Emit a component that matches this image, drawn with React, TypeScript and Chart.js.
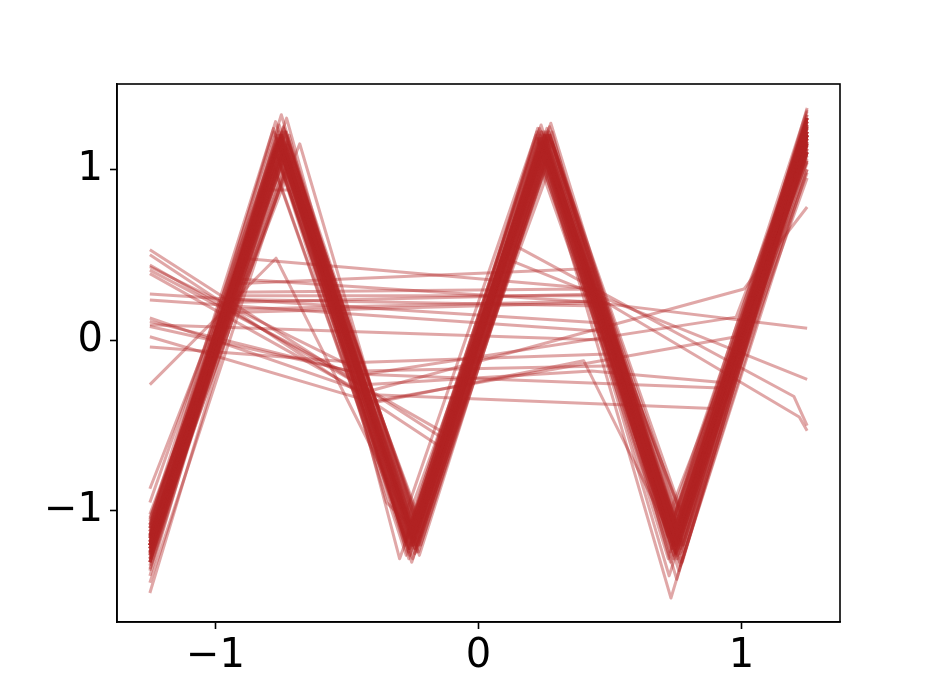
import React, { useEffect, useRef } from "react";
import { Chart, registerables } from "chart.js";

Chart.register(...registerables);

// x positions of the vertices shared by the regular (triangle-wave) lines
const X_GRID = [-1.25, -0.75, -0.25, 0.25, 0.75, 1.25];

// y values of the regular lines at X_GRID
const MAIN_Y: number[][] = [
  [-1.2, 1.18, -1.15, 1.2, -1.1, 1.3],
  [-1.12, 1.1, -1.2, 1.15, -1.18, 1.22],
  [-1.3, 1.22, -1.08, 1.05, -1.25, 1.1],
  [-1.05, 1.05, -1.22, 1.22, -1.05, 1.35],
  [-1.25, 1.15, -1.12, 1.1, -1.3, 1.18],
  [-1.35, 1.0, -1.18, 1.18, -1.02, 1.05],
  [-1.15, 1.25, -1.25, 1.08, -1.15, 1.28],
  [-1.22, 1.12, -1.05, 1.25, -1.22, 1.15],
  [-1.08, 1.2, -1.28, 1.12, -1.08, 1.25],
  [-1.28, 1.08, -1.1, 1.2, -1.35, 1.0],
  [-1.18, 1.16, -1.2, 1.02, -1.12, 1.32],
  [-1.42, 1.05, -1.15, 1.16, -1.2, 1.12],
  [-1.1, 1.22, -1.02, 1.22, -1.28, 1.2],
  [-1.24, 0.98, -1.24, 1.06, -1.0, 1.08],
  [-1.16, 1.14, -1.16, 1.24, -1.16, 1.26],
  [-1.32, 1.2, -1.1, 1.14, -1.4, 1.16],
  [-1.02, 1.1, -1.2, 1.2, -1.06, 0.98],
  [-1.2, 1.28, -1.14, 1.1, -1.24, 1.34],
  [-1.26, 1.04, -1.26, 1.18, -1.12, 1.22],
  [-1.14, 1.18, -1.08, 1.26, -1.18, 1.1],
  [-1.48, 1.12, -1.22, 1.12, -1.26, 1.24],
  [-1.06, 1.24, -1.18, 1.08, -1.1, 1.3],
  [-1.22, 1.06, -1.12, 1.22, -1.32, 1.04],
  [-1.18, 1.2, -1.3, 1.16, -1.14, 1.18],
  [-1.12, 1.02, -1.06, 1.04, -1.2, 1.28],
  [-1.38, 1.16, -1.22, 1.2, -1.08, 1.14],
  [-1.22, 1.24, -1.16, 1.12, -1.22, 1.36],
  [-1.08, 1.12, -1.26, 1.24, -1.38, 1.12],
  [-1.28, 1.18, -1.04, 1.1, -1.16, 1.2],
  [-1.16, 1.08, -1.2, 1.16, -1.04, 1.26],
  [-1.3, 1.26, -1.12, 1.06, -1.28, 1.06],
  [-1.04, 1.16, -1.24, 1.2, -1.12, 1.32],
  [-1.24, 1.1, -1.18, 1.14, -1.51, 1.16],
  [-1.2, 1.32, -1.28, 1.0, -1.2, 0.95],
  [-1.14, 1.14, -1.1, 1.27, -1.24, 1.22],
  [-1.34, 1.02, -1.16, 1.18, -1.14, 1.28],
  [-1.18, 1.22, -1.2, 1.1, -1.3, 1.1],
  [-1.26, 1.12, -1.14, 1.22, -1.18, 1.3],
  [-1.2, 1.14, -1.18, 1.16, -1.16, 1.2],
  [-1.16, 1.18, -1.14, 1.14, -1.2, 1.24],
  [-1.24, 1.12, -1.2, 1.2, -1.12, 1.16],
  [-1.1, 1.16, -1.16, 1.18, -1.22, 1.26],
  [-1.28, 1.2, -1.12, 1.12, -1.18, 1.22],
  [-1.14, 1.1, -1.22, 1.22, -1.1, 1.18],
  [-1.22, 1.16, -1.1, 1.16, -1.26, 1.28],
  [-1.18, 1.14, -1.16, 1.1, -1.14, 1.2],
  [-1.26, 1.18, -1.24, 1.18, -1.2, 1.14],
  [-1.12, 1.22, -1.18, 1.2, -1.16, 1.3],
  [-1.2, 1.1, -1.12, 1.14, -1.24, 1.24],
  [-1.3, 1.14, -1.2, 1.24, -1.1, 1.18],
  [-1.16, 1.2, -1.26, 1.12, -1.2, 1.26],
  [-1.22, 1.12, -1.14, 1.18, -1.28, 1.2],
  [-1.08, 1.16, -1.2, 1.14, -1.14, 1.16],
  [-1.24, 1.22, -1.08, 1.2, -1.18, 1.3],
  [-1.14, 1.08, -1.22, 1.16, -1.22, 1.22],
  [-1.2, 1.18, -1.18, 1.22, -1.12, 1.12],
];

// horizontal offset of the inner vertices of each regular line
const MAIN_X_SHIFT = [
  0.0, -0.02, 0.018, -0.01, 0.025, -0.025, 0.008, 0.02, -0.015, 0.012,
  -0.008, 0.028, -0.028, 0.015, -0.018, 0.004, 0.022, -0.022, 0.025, -0.012,
  0.008, -0.03, 0.018, -0.004, 0.028, -0.015, 0.01, -0.025, 0.015, 0.03,
  -0.008, 0.022, -0.018, 0.0, 0.025, -0.028, 0.015, -0.01,
  0.005, -0.005, 0.012, -0.012, 0.0, 0.008, -0.008, 0.016, -0.016, 0.003,
  -0.003, 0.01, -0.01, 0.006, -0.006, 0.014, -0.014, 0.0,
];

// irregular lines, given as [x, y] vertices
const OFF_LINES: [number, number][][] = [
  // start high on the left, meet near the trough at -0.25
  [[-1.25, 0.53], [-0.13, -0.58], [0.25, 1.12], [0.75, -1.15], [1.25, 1.2]],
  [[-1.25, 0.5], [-0.15, -0.62], [0.24, 1.18], [0.76, -1.2], [1.25, 1.1]],
  [[-1.25, 0.44], [-0.11, -0.56], [0.26, 1.1], [0.74, -1.1], [1.25, 1.25]],
  // lower middle band
  [[-1.25, 0.43], [-0.45, -0.18], [0.53, -0.15], [0.75, -1.22], [1.25, 1.15]],
  [[-1.25, 0.41], [-0.42, -0.26], [0.43, -0.18], [0.95, -0.25], [1.25, 1.0]],
  [[-1.25, 0.39], [-0.38, -0.36], [0.4, -0.12], [0.75, -1.2], [1.25, 1.2]],
  [[-1.25, 0.13], [-0.4, -0.32], [0.89, -0.4], [1.25, 1.05]],
  [[-1.25, 0.11], [-0.44, -0.2], [0.92, -0.28], [1.25, 1.1]],
  [[-1.25, 0.02], [-0.41, -0.36], [0.98, 0.02], [1.25, 1.25]],
  [[-1.25, -0.04], [-0.46, -0.13], [0.52, -0.08], [0.75, -1.2], [1.25, 1.18]],
  [[-1.25, 0.08], [-0.43, -0.2], [0.98, 0.135], [1.25, 1.22]],
  [[-1.25, -1.2], [-0.75, 1.2], [-0.42, -0.3], [1.01, 0.3], [1.25, 0.78]],
  [[-1.25, 0.27], [0.47, 0.1], [0.75, -1.18], [1.25, 1.2]],
  [[-1.25, 0.235], [0.49, 0.05], [0.75, -1.25], [1.25, 1.15]],
  [[-1.25, 0.09], [0.5, 0.0], [0.76, -1.1], [1.25, 1.22]],
  [[-1.25, -0.26], [-0.77, 0.48], [-0.27, -1.05], [0.25, 1.15], [0.75, -1.2], [1.25, 1.2]],
  // upper middle band
  [[-1.25, -1.2], [-0.9, 0.48], [0.45, 0.3], [0.75, -1.2], [1.25, 1.2]],
  [[-1.25, -1.22], [-0.93, 0.33], [0.43, 0.42], [0.74, -1.1], [1.25, 1.15]],
  [[-1.25, -1.18], [-0.95, 0.26], [0.45, 0.26], [0.75, -1.2], [1.25, 1.22]],
  [[-1.25, -1.25], [-0.96, 0.22], [0.46, 0.27], [0.76, -1.15], [1.25, 1.28]],
  [[-1.25, -1.1], [-0.96, 0.24], [0.47, 0.2], [0.75, -1.25], [1.25, 1.1]],
  [[-1.25, -1.2], [-0.97, 0.18], [0.46, 0.23], [0.74, -1.2], [1.25, 1.2]],
  [[-1.25, -1.3], [-0.98, 0.16], [0.48, 0.22], [0.75, -1.1], [1.25, 1.3]],
  // lines ending low on the right
  [[-1.25, -1.2], [-0.93, 0.36], [0.45, 0.22], [1.25, 0.07]],
  [[-1.25, -1.15], [-0.75, 1.2], [-0.25, -1.2], [0.12, 0.57], [1.2, -0.33], [1.25, -0.5]],
  [[-1.25, -1.25], [-0.75, 1.15], [-0.25, -1.15], [0.1, 0.48], [1.25, -0.23]],
  [[-1.25, -1.2], [-0.95, 0.28], [0.4, 0.3], [1.22, -0.45], [1.25, -0.53]],
  // regular lines with shifted vertices
  [[-1.25, -1.1], [-0.68, 1.15], [-0.25, -1.1], [0.25, 1.15], [0.75, -1.2], [1.25, 1.2]],
  [[-1.25, -1.2], [-0.73, 1.3], [-0.28, -1.2], [0.22, 1.2], [0.72, -1.15], [1.25, 1.3]],
  [[-1.25, -0.87], [-0.75, 1.1], [-0.25, -1.15], [0.25, 1.1], [0.75, -1.1], [1.25, 1.25]],
  [[-1.25, -0.95], [-0.77, 1.15], [-0.23, -1.2], [0.27, 1.2], [0.77, -1.2], [1.25, 1.15]],
  [[-1.25, -1.2], [-0.81, 0.88], [-0.72, 0.88], [-0.25, -1.2], [0.25, 1.2], [0.75, -1.2], [1.25, 1.2]],
  [[-1.25, -1.3], [-0.72, 1.2], [-0.3, -1.28], [0.28, 1.22], [0.73, -1.3], [1.25, 1.1]],
  [[-1.25, -1.15], [-0.76, 1.22], [-0.35, -0.95], [-0.25, -1.1], [0.23, 1.15], [0.78, -1.05], [1.25, 1.3]],
];

const X_TICKS = [-1, 0, 1];
const Y_TICKS = [-1, 0, 1];
const X_MIN = -1.375;
const X_MAX = 1.375;
const Y_MIN = -1.65;
const Y_MAX = 1.5;

const LINE_COLOR = "rgba(178,34,34,0.4)";

const fmt = (v: number) => (v < 0 ? "\u2212" + Math.abs(v) : String(v));

export default function App() {
  const ref = useRef<HTMLCanvasElement>(null);
  useEffect(() => {
    document.body.style.margin = "0";
    const canvas = ref.current!;
    const lines = [
      ...MAIN_Y.map((ys, k) =>
        ys.map((y, i) => ({
          x: X_GRID[i] + (i > 0 && i < ys.length - 1 ? MAIN_X_SHIFT[k] || 0 : 0),
          y,
        }))
      ),
      ...OFF_LINES.map((pts) => pts.map(([x, y]) => ({ x, y }))),
    ];
    const datasets = lines.map((data) => ({
      data,
      borderColor: LINE_COLOR,
      borderWidth: 3,
      pointRadius: 0,
      fill: false,
      tension: 0,
      borderJoinStyle: "round" as const,
    }));
    const frame = {
      id: "frame",
      afterDraw(c: any) {
        const { left, top, right, bottom } = c.chartArea;
        const ctx = c.ctx;
        ctx.save();
        ctx.strokeStyle = "#000";
        ctx.lineWidth = 1.6;
        ctx.strokeRect(left, top, right - left, bottom - top);
        ctx.restore();
      },
    };
    const tickFont = { family: "DejaVu Sans", size: 40 };
    const chart = new Chart(canvas, {
      type: "line",
      data: { datasets: datasets as any },
      options: {
        animation: false,
        responsive: false,
        events: [],
        layout: { padding: { left: 0, top: 84, right: 94, bottom: 0 } },
        plugins: { legend: { display: false }, tooltip: { enabled: false } },
        scales: {
          x: {
            type: "linear",
            min: X_MIN,
            max: X_MAX,
            afterBuildTicks: (s: any) => {
              s.ticks = X_TICKS.map((v) => ({ value: v }));
            },
            afterFit: (s: any) => {
              s.height = 78;
            },
            grid: {
              drawOnChartArea: false,
              drawTicks: true,
              tickLength: 7,
              tickWidth: 1.6,
              tickColor: "#000",
            },
            border: { display: true, color: "#000", width: 1.6 },
            ticks: {
              font: tickFont,
              color: "#000",
              padding: 4,
              maxRotation: 0,
              autoSkip: false,
              callback: (v: any) => fmt(Number(v)),
            },
          },
          y: {
            type: "linear",
            min: Y_MIN,
            max: Y_MAX,
            afterBuildTicks: (s: any) => {
              s.ticks = Y_TICKS.map((v) => ({ value: v }));
            },
            afterFit: (s: any) => {
              s.width = 117;
            },
            grid: {
              drawOnChartArea: false,
              drawTicks: true,
              tickLength: 7,
              tickWidth: 1.6,
              tickColor: "#000",
            },
            border: { display: true, color: "#000", width: 1.6 },
            ticks: {
              font: tickFont,
              color: "#000",
              padding: 7,
              autoSkip: false,
              callback: (v: any) => fmt(Number(v)),
            },
          },
        },
      },
      plugins: [frame],
    });
    return () => chart.destroy();
  }, []);
  return (
    <div style={{ width: 934, height: 700 }}>
      <canvas ref={ref} width={934} height={700} style={{ display: "block" }} />
    </div>
  );
}
